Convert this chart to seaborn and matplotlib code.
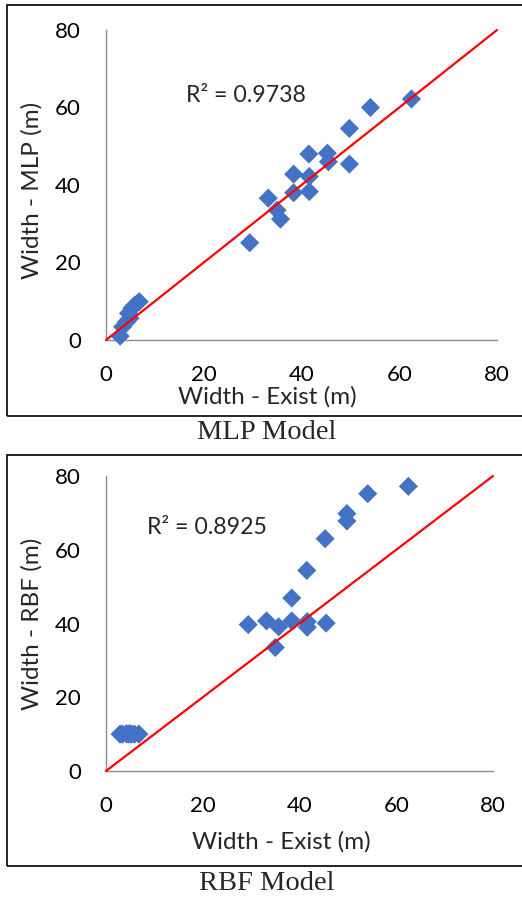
import matplotlib
matplotlib.use('Agg')
import matplotlib.pyplot as plt
import seaborn as sns
import pandas as pd
from matplotlib.patches import Rectangle

# measured (existing) widths, shared by both models
exist = [2.9, 3.4, 4.2, 4.6, 4.9, 5.3, 5.9, 6.8,
         29.4, 33.2, 35.0, 35.7, 38.4, 38.4, 41.5, 41.6, 41.6,
         45.3, 45.5, 49.8, 49.8, 54.1, 62.5]
mlp = [1.0, 3.4, 4.7, 6.9, 5.6, 8.2, 9.0, 9.9,
       25.1, 36.6, 33.5, 31.2, 42.8, 38.0, 48.0, 42.2, 38.3,
       48.2, 46.0, 54.6, 45.4, 60.0, 62.2]
rbf = [10.0, 10.0, 10.1, 10.0, 10.1, 10.0, 10.0, 10.0,
       39.7, 40.7, 33.5, 39.1, 46.9, 40.7, 54.4, 40.5, 39.0,
       63.0, 40.1, 69.8, 67.8, 75.2, 77.2]
identity = [0, 80]
ticks = [0, 20, 40, 60, 80]
r2_mlp = "R\u00b2 = 0.9738"
r2_rbf = "R\u00b2 = 0.8925"

df = pd.DataFrame({'exist': exist, 'MLP': mlp, 'RBF': rbf})
line_df = pd.DataFrame({'x': identity, 'y': identity})

sns.set_style("white")
plt.rcParams['font.family'] = ['Lato', 'DejaVu Sans']

W, H = 522, 899
fig = plt.figure(figsize=(W / 100, H / 100), dpi=100)


def px_axes(l, t, r, b):
    return fig.add_axes([l / W, 1 - b / H, (r - l) / W, (b - t) / H])


panels = [
    dict(model='MLP', box=(106, 30, 497, 340), r2=r2_mlp, r2pos=(16.4, 63.2),
         xlab=(0.412, -0.148), ylab=(-0.163, 0.484), frame=(5, 416), cap=433),
    dict(model='RBF', box=(106, 476, 493, 771), r2=r2_rbf, r2pos=(8.5, 66.1),
         xlab=(0.452, -0.205), ylab=(-0.165, 0.498), frame=(455, 866), cap=883),
]

for p in panels:
    ax = px_axes(*p['box'])
    sns.scatterplot(data=df, x='exist', y=p['model'], ax=ax, marker='D', s=95,
                    color='#4472C4', edgecolor='none', linewidth=0, clip_on=False, zorder=3)
    sns.lineplot(data=line_df, x='x', y='y', ax=ax, color='#FF0000', linewidth=1.6,
                 clip_on=False, zorder=4)
    ax.set_xlim(0, 80)
    ax.set_ylim(0, 80)
    ax.set_xticks(ticks)
    ax.set_yticks(ticks)
    sns.despine(ax=ax)
    for s in ['left', 'bottom']:
        ax.spines[s].set_color('#8C8C8C')
        ax.spines[s].set_linewidth(1.0)
    ax.tick_params(direction='in', length=5.5, width=1.0, color='#8C8C8C',
                   labelsize=16, pad=18, labelcolor='black')
    ax.set_xlabel('Width - Exist (m)', fontsize=17.5)
    ax.set_ylabel(f"Width - {p['model']} (m)", fontsize=17.5)
    ax.xaxis.set_label_coords(*p['xlab'])
    ax.yaxis.set_label_coords(*p['ylab'])
    ax.text(p['r2pos'][0], p['r2pos'][1], p['r2'], fontsize=16.7, va='center', ha='left')

    top, bot = p['frame']
    fig.patches.append(Rectangle((7 / W, 1 - bot / H), 1.2, (bot - top) / H,
                                 transform=fig.transFigure, fill=False,
                                 edgecolor='black', linewidth=1.2))
    fig.text(267 / W, 1 - p['cap'] / H, f"{p['model']} Model", ha='center', va='center',
             fontsize=20.5, family=['Liberation Serif', 'DejaVu Serif'])

fig.savefig('out.png', dpi=100)
